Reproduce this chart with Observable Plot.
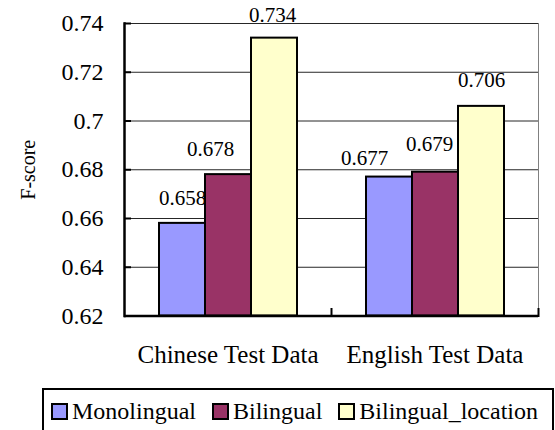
<!DOCTYPE html>
<html><head><meta charset="utf-8">
<script src="https://cdn.jsdelivr.net/npm/d3@7"></script>
<script src="https://cdn.jsdelivr.net/npm/@observablehq/plot@0.6"></script>
<style>
body{margin:0;background:#fff;font-family:'Liberation Serif',serif;}
#chart{position:absolute;left:0;top:0;}
#chart svg, #chart svg text{font-family:'Liberation Serif',serif !important;}
#legend{position:absolute;left:42px;top:388px;width:512px;height:46px;border:2px solid #000;box-sizing:border-box;display:flex;align-items:center;padding-left:7px;font-family:'Liberation Serif',serif;font-size:24px;color:#000;}
.item{display:flex;align-items:center;margin-right:16px;}
.sw{width:13px;height:13px;border:2px solid #000;margin-right:4px;}
</style></head>
<body>
<div id="chart"></div>
<div id="legend"></div>
<script>
const groups = ["Chinese Test Data", "English Test Data"];
const seriesNames = ["Monolingual", "Bilingual", "Bilingual_location"];
const seriesColors = ["#9999FF", "#993366", "#FFFFCC"];
const monolingual = [0.658, 0.677];
const bilingual = [0.678, 0.679];
const bilingualLocation = [0.734, 0.706];
const yTicks = [0.62, 0.64, 0.66, 0.68, 0.70, 0.72, 0.74];
const yLabel = "F-score";

const seriesValues = [monolingual, bilingual, bilingualLocation];
const rows = [];
groups.forEach((g, i) => seriesNames.forEach((s, j) => rows.push({group: g, series: s, value: seriesValues[j][i]})));

// label nudges (styling only, px)
const nudge = {
  "Chinese Test Data|Bilingual": [-18, 0],
  "English Test Data|Monolingual": [-25, 6],
  "English Test Data|Bilingual": [-6, -3],
  "English Test Data|Bilingual_location": [0, -1],
  "Chinese Test Data|Bilingual_location": [-2, 2]
};
const key = d => d.group + "|" + d.series;
const textMarks = [];
const nudged = new Map();
rows.forEach(d => { const n = nudge[key(d)] || [0, 0]; const k = n.join(","); if (!nudged.has(k)) nudged.set(k, []); nudged.get(k).push(d); });
for (const [k, arr] of nudged) {
  const [dx, dy] = k.split(",").map(Number);
  textMarks.push(Plot.text(arr, {fx: "group", x: "series", y: "value", text: d => d3.format(".3f")(d.value), dx, dy: -25 + dy, fontSize: 21, fill: "#000"}));
}

const W = 555, H = 388, mT = 23, mB = 72.5;
const plotH = H - mT - mB;
const yMin = yTicks[0];
const chart = Plot.plot({
  width: W,
  height: H,
  marginLeft: 124,
  marginRight: 17,
  marginTop: mT,
  marginBottom: mB,
  style: {background: "#fff", color: "#000"},
  fx: {domain: groups, padding: 0},
  x: {domain: seriesNames, paddingInner: 0, paddingOuter: 0.75, axis: null},
  y: {domain: [yMin, yTicks[yTicks.length - 1]]},
  color: {domain: seriesNames, range: seriesColors},
  marks: [
    Plot.ruleY(yTicks.slice(1), {stroke: "#000", strokeWidth: 1, strokeOpacity: 0.85}),
    Plot.frame({anchor: "right", facetAnchor: "right", stroke: "#808080", strokeWidth: 1}),
    Plot.barY(rows, {fx: "group", x: "series", y1: () => yMin, y2: "value", fill: "series", stroke: "#000", strokeWidth: 2}),
    Plot.ruleY([yMin], {stroke: "#000", strokeWidth: 2.5}),
    Plot.frame({anchor: "left", facetAnchor: "left", stroke: "#000", strokeWidth: 2.5}),
    Plot.frame({anchor: "right", stroke: "#000", strokeWidth: 2, insetTop: plotH - 7}),
    Plot.axisY({ticks: yTicks, tickFormat: d => String(+d.toFixed(2)), tickSize: -7, tickPadding: 28, strokeWidth: 2, fontSize: 24, label: null}),
    Plot.axisY({ticks: [], label: yLabel, labelArrow: "none", labelAnchor: "center", labelOffset: 104, fontSize: 20, dy: 9}),
    Plot.axisFx({anchor: "bottom", tickSize: 0, tickPadding: 29, fontSize: 25, label: null}),
    ...textMarks
  ]
});
document.getElementById("chart").appendChild(chart);

const legend = document.getElementById("legend");
seriesNames.forEach((s, i) => {
  const it = document.createElement("div"); it.className = "item";
  const sw = document.createElement("div"); sw.className = "sw"; sw.style.background = seriesColors[i];
  const t = document.createElement("span"); t.textContent = s;
  it.appendChild(sw); it.appendChild(t); legend.appendChild(it);
});
</script>
</body></html>
